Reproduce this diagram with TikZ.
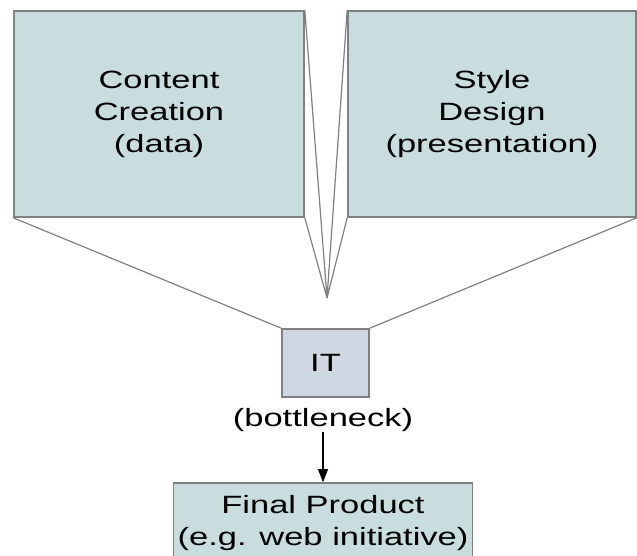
\documentclass[tikz,border=0pt]{standalone}
\usepackage{fontspec}
\setmainfont{Liberation Sans}[FakeStretch=1.38]
\usetikzlibrary{arrows.meta}

\definecolor{boxfill}{RGB}{201,221,222}
\definecolor{itfill}{RGB}{207,216,226}
\definecolor{edgegray}{RGB}{128,128,128}

\begin{document}
\begin{tikzpicture}[x=1pt,y=1pt,
  box/.style={draw=edgegray,line width=1.6pt,fill=boxfill,inner sep=0pt,
              align=center,font=\fontsize{25}{32}\selectfont},
  link/.style={draw=edgegray,line width=1.2pt},
  flow/.style={-{Triangle[length=13pt,width=10pt]},line width=1.1pt}]
  \useasboundingbox (0,0) rectangle (637,556);

  \node[box,minimum width=290pt,minimum height=206pt] (content) at (159,442)
    {Content\\Creation\\(data)};
  \node[box,minimum width=288pt,minimum height=206pt] (style) at (492,442)
    {Style\\Design\\(presentation)};
  \coordinate (apex) at (327,258);
  \node[box,fill=itfill,minimum width=87pt,minimum height=68pt] (it) at (325.5,193) {IT};
  \node[font=\fontsize{25}{32}\selectfont,inner sep=0pt] (neck) at (323,136) {(bottleneck)};
  \node[box,minimum width=299pt,minimum height=80pt] (final) at (323,33)
    {Final Product\\(e.g. web initiative)};

  %\draw[link] (content.south) -- (it.north);
  \draw[link] (content.north east) -- (apex) -- (content.south east);
  \draw[link] (style.north west) -- (apex) -- (style.south west);
  \draw[link] (content.south west) -- (it.north west);
  \draw[link] (style.south east) -- (it.north east);
  \draw[flow] (neck.south) -- (final.north);

\end{tikzpicture}
\end{document}
